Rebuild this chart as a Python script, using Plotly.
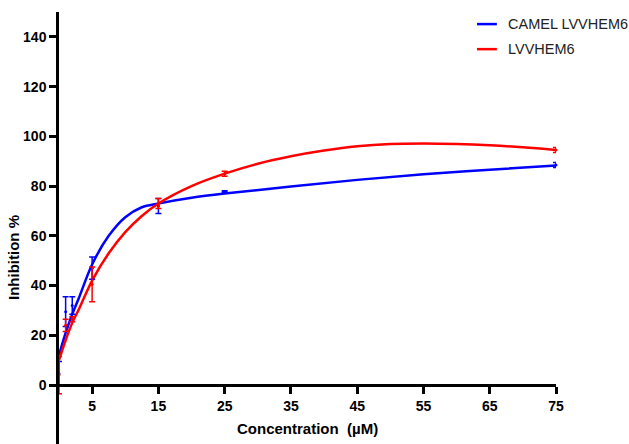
import plotly.graph_objects as go

# Measured points (mean ± error)
conc = [0, 1, 2, 5, 15, 25, 75]
camel_mean = [4.5, 29.5, 32.0, 47.0, 72.0, 77.8, 88.5]
camel_err = [5.0, 6.0, 3.5, 4.5, 3.0, 0.3, 1.0]
lvv_mean = [4.0, 24.0, 26.5, 40.5, 73.0, 85.0, 94.5]
lvv_err = [7.5, 2.5, 1.0, 7.0, 2.0, 1.0, 1.0]

# Fitted curves
camel_fit_x = [0, 1, 2, 3, 5, 7.5, 10, 12.5, 15, 20, 25, 35, 45, 55, 65, 75]
camel_fit_y = [12, 21, 28.5, 35, 48.5, 60, 67.5, 71.5, 73, 75.3, 77, 79.8, 82.5, 84.8, 86.6, 88.3]
lvv_fit_x = [0, 1, 2, 3, 5, 7.5, 10, 12.5, 15, 20, 25, 30, 35, 40, 45, 50, 55, 60, 65, 70, 75]
lvv_fit_y = [10, 18, 25, 30.5, 42, 53, 61.5, 68, 73, 80, 85, 89, 92, 94.3, 96, 96.9, 97.1, 96.9, 96.4, 95.6, 94.5]

series_names = ["CAMEL LVVHEM6", "LVVHEM6"]
x_ticks = [5, 15, 25, 35, 45, 55, 65, 75]
y_ticks = [0, 20, 40, 60, 80, 100, 120, 140]

BLUE = "#0000FF"
RED = "#FF0000"
FONT = "Liberation Sans, Arial, sans-serif"

fig = go.Figure()
fig.add_trace(go.Scatter(x=camel_fit_x, y=camel_fit_y, mode="lines", name=series_names[0], showlegend=False,
                         line=dict(color=BLUE, width=2.5, shape="spline"), cliponaxis=False))
fig.add_trace(go.Scatter(x=lvv_fit_x, y=lvv_fit_y, mode="lines", name=series_names[1], showlegend=False,
                         line=dict(color=RED, width=2.5, shape="spline"), cliponaxis=False))
fig.add_trace(go.Scatter(x=conc, y=camel_mean, mode="markers", showlegend=False,
                         marker=dict(color=BLUE, size=3),
                         error_y=dict(type="data", array=camel_err, color=BLUE, thickness=1.5, width=3),
                         cliponaxis=False))
fig.add_trace(go.Scatter(x=conc, y=lvv_mean, mode="markers", showlegend=False,
                         marker=dict(color=RED, size=3),
                         error_y=dict(type="data", array=lvv_err, color=RED, thickness=1.5, width=3),
                         cliponaxis=False))

# Manual legend (paper coordinates of the plot area)
legend_rows = [(series_names[0], BLUE, 0.972), (series_names[1], RED, 0.914)]
shapes = []
annotations = []
for name, col, yy in legend_rows:
    shapes.append(dict(type="line", xref="paper", yref="paper", x0=0.841, x1=0.881, y0=yy, y1=yy,
                       line=dict(color=col, width=2.5)))
    annotations.append(dict(xref="paper", yref="paper", x=0.899, y=yy, xanchor="left", yanchor="middle",
                            text=name, showarrow=False, font=dict(size=14.5, color="#222", family=FONT)))

annotations.append(dict(xref="paper", yref="paper", x=-0.0905, y=0.4306, textangle=-90,
                        xanchor="center", yanchor="middle", showarrow=False,
                        text="<b>Inhibition %</b>", font=dict(size=15, color="black", family=FONT)))
annotations.append(dict(xref="paper", yref="paper", x=0.499, y=0.037,
                        xanchor="center", yanchor="middle", showarrow=False,
                        text="<b>Concentration  (µM)</b>", font=dict(size=15, color="black", family=FONT)))

ymin = -23.7
ymax = 150
fig.update_layout(
    width=629, height=444,
    margin=dict(l=59, r=73, t=12, b=0),
    plot_bgcolor="white", paper_bgcolor="white",
    font=dict(family=FONT, color="black"),
    showlegend=False,
    shapes=shapes,
    annotations=annotations,
    xaxis=dict(range=[0, 75], tickvals=x_ticks, ticktext=[str(v) for v in x_ticks],
               showgrid=False, zeroline=False, showline=True, linecolor="black", linewidth=2.5,
               ticks="outside", ticklen=7, tickwidth=2.5, tickcolor="black", automargin=False,
               tickfont=dict(size=14, family=FONT, weight="bold"),
               anchor="free", position=(0 - ymin) / (ymax - ymin)),
    yaxis=dict(range=[ymin, ymax], tickvals=y_ticks, ticktext=[str(v) for v in y_ticks],
               showgrid=False, zeroline=False, showline=True, linecolor="black", linewidth=2.5,
               ticks="outside", ticklen=7, tickwidth=2.5, tickcolor="black", automargin=False,
               tickfont=dict(size=14, family=FONT, weight="bold")),
)

fig.write_html("out.html", config={"displayModeBar": False},
               post_script="document.body.style.margin='0';")
